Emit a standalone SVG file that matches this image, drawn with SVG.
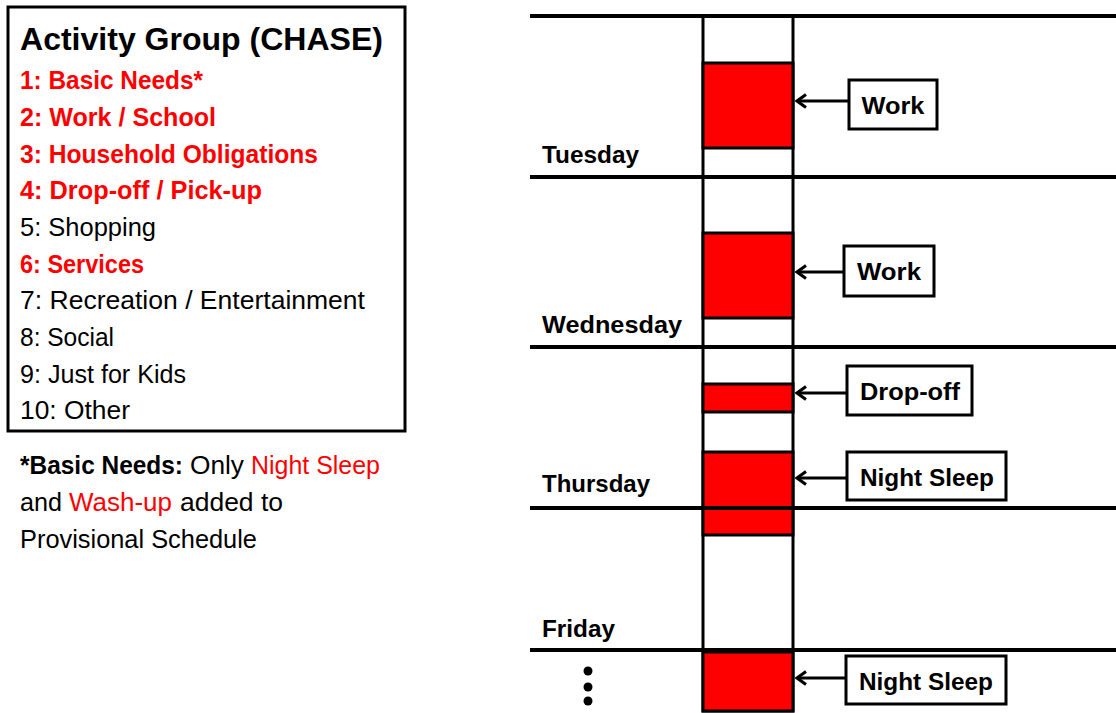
<svg xmlns="http://www.w3.org/2000/svg" width="1116" height="713" viewBox="0 0 1116 713">
<style>
.t{font-family:"Liberation Sans",Arial,sans-serif;}
.item{font-size:26px;fill:#000;}
.red{fill:#ff0000;font-weight:bold;}
.day{font-size:24px;font-weight:bold;fill:#000;}
.lbl{font-size:24px;font-weight:bold;fill:#000;text-anchor:middle;}
.box{fill:#fff;stroke:#000;stroke-width:3;}
.blk{fill:#ff0000;stroke:#000;stroke-width:3;}
.hl{stroke:#000;stroke-width:4;}
.arr{stroke:#000;stroke-width:3;fill:none;}
</style>
<defs>
<marker id="ah" viewBox="0 0 13 16" refX="11" refY="8" markerWidth="13" markerHeight="16" markerUnits="userSpaceOnUse" orient="auto">
<path d="M2,1.5 L11,8 L2,14.5" fill="none" stroke="#000" stroke-width="3" stroke-linejoin="miter"/>
</marker>
</defs>
<rect width="1116" height="713" fill="#fff"/>

<g id="legend">
<rect x="8" y="7" width="397" height="424" fill="#fff" stroke="#000" stroke-width="3"/>
<text class="t" x="20" y="50" font-size="32" font-weight="bold" textLength="363" lengthAdjust="spacingAndGlyphs">Activity Group (CHASE)</text>
<text class="t item red" x="20" y="89" textLength="183" lengthAdjust="spacingAndGlyphs">1: Basic Needs*</text>
<text class="t item red" x="20" y="126" textLength="196" lengthAdjust="spacingAndGlyphs">2: Work / School</text>
<text class="t item red" x="20" y="163" textLength="298" lengthAdjust="spacingAndGlyphs">3: Household Obligations</text>
<text class="t item red" x="20" y="199" textLength="242" lengthAdjust="spacingAndGlyphs">4: Drop-off / Pick-up</text>
<text class="t item" x="20" y="236" textLength="136" lengthAdjust="spacingAndGlyphs">5: Shopping</text>
<text class="t item red" x="20" y="273" textLength="124" lengthAdjust="spacingAndGlyphs">6: Services</text>
<text class="t item" x="20" y="309" textLength="345" lengthAdjust="spacingAndGlyphs">7: Recreation / Entertainment</text>
<text class="t item" x="20" y="346" textLength="94" lengthAdjust="spacingAndGlyphs">8: Social</text>
<text class="t item" x="20" y="383" textLength="166" lengthAdjust="spacingAndGlyphs">9: Just for Kids</text>
<text class="t item" x="20" y="419" textLength="110" lengthAdjust="spacingAndGlyphs">10: Other</text>
</g>

<g id="footnote" class="t" font-size="25">
<text x="20" y="474"><tspan font-weight="bold" textLength="163" lengthAdjust="spacingAndGlyphs">*Basic Needs:</tspan><tspan x="190" textLength="54" lengthAdjust="spacingAndGlyphs">Only</tspan><tspan x="251" fill="#ff0000" textLength="129" lengthAdjust="spacingAndGlyphs">Night Sleep</tspan></text>
<text x="20" y="511"><tspan textLength="42" lengthAdjust="spacingAndGlyphs">and</tspan><tspan x="69" fill="#ff0000" textLength="103" lengthAdjust="spacingAndGlyphs">Wash-up</tspan><tspan x="180" textLength="103" lengthAdjust="spacingAndGlyphs">added to</tspan></text>
<text x="20" y="548" textLength="237" lengthAdjust="spacingAndGlyphs">Provisional Schedule</text>
</g>

<g id="timeline">
<rect x="703" y="16" width="90" height="695" fill="#fff" stroke="#000" stroke-width="3"/>
<rect class="blk" x="703" y="63" width="90" height="85"/>
<rect class="blk" x="703" y="233" width="90" height="85"/>
<rect class="blk" x="703" y="384" width="90" height="28"/>
<rect class="blk" x="703" y="452" width="90" height="56"/>
<rect class="blk" x="703" y="508" width="90" height="27"/>
<rect class="blk" x="703" y="652" width="90" height="59"/>
<line class="hl" x1="530" y1="16" x2="1116" y2="16"/>
<line class="hl" x1="530" y1="177" x2="1116" y2="177"/>
<line class="hl" x1="530" y1="347" x2="1116" y2="347"/>
<line class="hl" x1="530" y1="508" x2="1116" y2="508"/>
<line class="hl" x1="530" y1="650" x2="1116" y2="650"/>
</g>

<g id="days" class="t">
<text class="day" x="542" y="163" textLength="97" lengthAdjust="spacingAndGlyphs">Tuesday</text>
<text class="day" x="542" y="333" textLength="140" lengthAdjust="spacingAndGlyphs">Wednesday</text>
<text class="day" x="542" y="492" textLength="108" lengthAdjust="spacingAndGlyphs">Thursday</text>
<text class="day" x="542" y="637" textLength="73" lengthAdjust="spacingAndGlyphs">Friday</text>
</g>

<g id="ellipsis">
<circle cx="588" cy="671" r="4.5"/>
<circle cx="588" cy="687" r="4.5"/>
<circle cx="588" cy="701" r="4.5"/>
</g>

<g id="connectors">
<line class="arr" x1="849" y1="101" x2="797" y2="101" marker-end="url(#ah)"/>
<line class="arr" x1="844" y1="272" x2="797" y2="272" marker-end="url(#ah)"/>
<line class="arr" x1="847" y1="393" x2="797" y2="393" marker-end="url(#ah)"/>
<line class="arr" x1="847" y1="478" x2="797" y2="478" marker-end="url(#ah)"/>
<line class="arr" x1="846" y1="678" x2="797" y2="678" marker-end="url(#ah)"/>
</g>

<g id="n-work1">
<rect class="box" x="849" y="80" width="88" height="49"/>
<text class="t lbl" x="893" y="114" textLength="63" lengthAdjust="spacingAndGlyphs">Work</text>
</g>
<g id="n-work2">
<rect class="box" x="844" y="246" width="90" height="50"/>
<text class="t lbl" x="889" y="280" textLength="64" lengthAdjust="spacingAndGlyphs">Work</text>
</g>
<g id="n-dropoff">
<rect class="box" x="847" y="366" width="125" height="49"/>
<text class="t lbl" x="910" y="400" textLength="100" lengthAdjust="spacingAndGlyphs">Drop-off</text>
</g>
<g id="n-sleep1">
<rect class="box" x="847" y="452" width="159" height="48"/>
<text class="t lbl" x="927" y="486" textLength="134" lengthAdjust="spacingAndGlyphs">Night Sleep</text>
</g>
<g id="n-sleep2">
<rect class="box" x="846" y="656" width="160" height="48"/>
<text class="t lbl" x="926" y="690" textLength="134" lengthAdjust="spacingAndGlyphs">Night Sleep</text>
</g>
</svg>
